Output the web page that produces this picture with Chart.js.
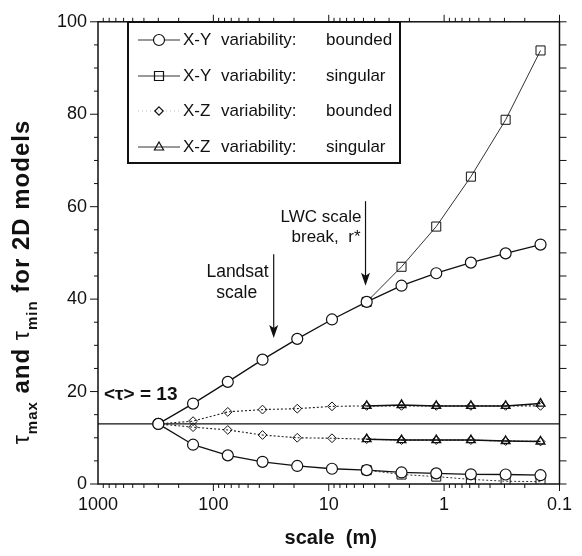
<!DOCTYPE html>
<html lang="en">
<head>
<meta charset="UTF-8">
<title>tau max and tau min for 2D models</title>
<script src="https://cdn.jsdelivr.net/npm/chart.js"></script>
<style>
  html, body { margin: 0; padding: 0; background: #fff; }
  #wrap { width: 582px; height: 556px; }
</style>
</head>
<body>
<div id="wrap"><canvas id="chart" width="582" height="556"></canvas></div>
<script>
// scales (m) of the averaging cells, and the subset where the singular runs are drawn
const scalesM = [300, 150, 75, 37.5, 18.75, 9.375, 4.69, 2.34, 1.17, 0.586, 0.293, 0.146];
const singularScalesM = [4.69, 2.34, 1.17, 0.586, 0.293, 0.146];

// X-Y variability, bounded cascade (circles)
const xyBoundedMax = [13, 17.4, 22.1, 26.9, 31.4, 35.6, 39.4, 42.9, 45.6, 47.9, 49.9, 51.8];
const xyBoundedMin = [13, 8.5, 6.2, 4.8, 3.9, 3.3, 3.0, 2.5, 2.3, 2.1, 2.05, 1.9];
// X-Y variability, singular cascade (squares)
const xySingularMax = [39.4, 47.0, 55.7, 66.5, 78.8, 93.8];
const xySingularMin = [3.0, 2.05, 1.6, 1.0, 0.6, 0.5];
// X-Z variability, bounded (diamonds)
const xzBoundedMax = [13, 13.6, 15.6, 16.1, 16.3, 16.8, 16.9, 16.9, 16.9, 16.9, 16.9, 16.9];
const xzBoundedMin = [13, 12.3, 11.7, 10.6, 10.0, 9.9, 9.7, 9.5, 9.5, 9.5, 9.3, 9.2];
// X-Z variability, singular (triangles)
const xzSingularMax = [16.9, 17.1, 16.9, 16.9, 16.9, 17.4];
const xzSingularMin = [9.7, 9.5, 9.5, 9.5, 9.3, 9.2];

const meanTau = 13;
const xTickLabels = [1000, 100, 10, 1, 0.1];
const yTickLabels = [0, 20, 40, 60, 80, 100];

const FONT = '"Liberation Sans", Arial, Helvetica, sans-serif';
const INK = '#111';

function pts(xs, ys) {
  return xs.map((x, i) => ({ x: x, y: ys[i] }));
}

const circleStyle = {
  pointStyle: 'circle', pointRadius: 5.5, pointBorderWidth: 1.2,
  pointBackgroundColor: '#fff', pointBorderColor: INK,
  borderColor: INK, borderWidth: 1.3
};
const squareStyle = {
  pointStyle: 'rect', pointRadius: 6.4, pointBorderWidth: 1,
  pointBackgroundColor: 'rgba(0,0,0,0)', pointBorderColor: INK,
  borderColor: '#333', borderWidth: 1
};
const squareLowStyle = Object.assign({}, squareStyle, { borderDash: [2, 2] });
const diamondStyle = {
  pointStyle: 'rectRot', pointRadius: 4.4, pointBorderWidth: 1,
  pointBackgroundColor: 'rgba(0,0,0,0)', pointBorderColor: INK,
  borderColor: '#222', borderWidth: 1.1, borderDash: [2, 2]
};
const triangleStyle = {
  pointStyle: 'triangle', pointRadius: 5, pointBorderWidth: 1.4,
  pointBackgroundColor: 'rgba(0,0,0,0)', pointBorderColor: INK,
  borderColor: INK, borderWidth: 1.5
};

const datasets = [
  Object.assign({ label: 'X-Y variability: bounded (max)', data: pts(scalesM, xyBoundedMax) }, circleStyle),
  Object.assign({ label: 'X-Y variability: bounded (min)', data: pts(scalesM, xyBoundedMin) }, circleStyle),
  Object.assign({ label: 'X-Y variability: singular (max)', data: pts(singularScalesM, xySingularMax) }, squareStyle),
  Object.assign({ label: 'X-Y variability: singular (min)', data: pts(singularScalesM, xySingularMin) }, squareLowStyle),
  Object.assign({ label: 'X-Z variability: singular (max)', data: pts(singularScalesM, xzSingularMax) }, triangleStyle),
  Object.assign({ label: 'X-Z variability: singular (min)', data: pts(singularScalesM, xzSingularMin) }, triangleStyle),
  Object.assign({ label: 'X-Z variability: bounded (max)', data: pts(scalesM, xzBoundedMax) }, diamondStyle),
  Object.assign({ label: 'X-Z variability: bounded (min)', data: pts(scalesM, xzBoundedMin) }, diamondStyle),
  {
    label: '<tau> = 13',
    data: [{ x: 1000, y: meanTau }, { x: 0.1, y: meanTau }],
    borderColor: INK, borderWidth: 1.3, pointRadius: 0
  }
];

// legend rows: [first word, last word, marker]
const legendRows = [
  ['X-Y', 'bounded', 'circle'],
  ['X-Y', 'singular', 'square'],
  ['X-Z', 'bounded', 'diamond'],
  ['X-Z', 'singular', 'triangle']
];

function marker(ctx, kind, x, y) {
  ctx.beginPath();
  if (kind === 'circle') {
    ctx.arc(x, y, 5.5, 0, Math.PI * 2);
    ctx.fillStyle = '#fff';
    ctx.fill();
  } else if (kind === 'square') {
    ctx.rect(x - 4.5, y - 4.5, 9, 9);
  } else if (kind === 'diamond') {
    ctx.moveTo(x, y - 4.2); ctx.lineTo(x + 4.2, y); ctx.lineTo(x, y + 4.2); ctx.lineTo(x - 4.2, y); ctx.closePath();
  } else {
    ctx.moveTo(x, y - 5); ctx.lineTo(x + 4.6, y + 3); ctx.lineTo(x - 4.6, y + 3); ctx.closePath();
  }
  ctx.lineWidth = 1.2;
  ctx.strokeStyle = INK;
  ctx.stroke();
}

function arrow(ctx, x, y0, y1) {
  ctx.beginPath();
  ctx.moveTo(x, y0);
  ctx.lineTo(x, y1 - 8);
  ctx.lineWidth = 1.2;
  ctx.strokeStyle = INK;
  ctx.stroke();
  ctx.beginPath();
  ctx.moveTo(x, y1);
  ctx.lineTo(x - 4.5, y1 - 13);
  ctx.lineTo(x, y1 - 10);
  ctx.lineTo(x + 4.5, y1 - 13);
  ctx.closePath();
  ctx.fillStyle = INK;
  ctx.fill();
}

const decor = {
  id: 'decor',
  afterDatasetsDraw(chart) {
    const ctx = chart.ctx;
    const a = chart.chartArea;
    const xs = chart.scales.x, ys = chart.scales.y;
    ctx.save();

    // frame
    ctx.strokeStyle = INK;
    ctx.lineWidth = 1.5;
    ctx.strokeRect(a.left, a.top, a.right - a.left, a.bottom - a.top);

    // tick marks, outward on all four sides
    ctx.lineWidth = 1;
    ctx.beginPath();
    for (let e = -1; e <= 2; e++) {
      for (let k = 1; k <= 9; k++) {
        const v = k * Math.pow(10, e);
        const px = xs.getPixelForValue(v);
        const len = k === 1 ? 7 : 4;
        ctx.moveTo(px, a.bottom); ctx.lineTo(px, a.bottom + len);
        ctx.moveTo(px, a.top); ctx.lineTo(px, a.top - len);
      }
    }
    for (let v = 0; v <= 100; v += 5) {
      const py = ys.getPixelForValue(v);
      const len = v % 20 === 0 ? 8 : 4;
      ctx.moveTo(a.left, py); ctx.lineTo(a.left - len, py);
      ctx.moveTo(a.right, py); ctx.lineTo(a.right + 7, py);
    }
    ctx.stroke();

    ctx.fillStyle = INK;
    ctx.textBaseline = 'middle';

    // x title
    ctx.font = 'bold 20px ' + FONT;
    ctx.textAlign = 'center';
    ctx.fillText('scale  (m)', (a.left + a.right) / 2 + 2, 538);

    // y title with subscripts, rotated
    ctx.save();
    ctx.translate(29, 282);
    ctx.rotate(-Math.PI / 2);
    ctx.textBaseline = 'alphabetic';
    ctx.textAlign = 'left';
    ctx.letterSpacing = '1px';
    const parts = [
      ['τ', '23px ' + FONT, 0],
      ['max', 'bold 15px ' + FONT, 8],
      [' and ', 'bold 24px ' + FONT, 0],
      ['τ', '23px ' + FONT, 0],
      ['min', 'bold 15px ' + FONT, 8],
      [' for 2D models', 'bold 24px ' + FONT, 0]
    ];
    let total = 0;
    parts.forEach(p => { ctx.font = p[1]; total += ctx.measureText(p[0]).width; });
    let cx = -total / 2;
    parts.forEach(p => {
      ctx.font = p[1];
      ctx.fillText(p[0], cx, p[2]);
      cx += ctx.measureText(p[0]).width;
    });
    ctx.restore();

    // mean annotation
    ctx.font = 'bold 19px ' + FONT;
    ctx.textAlign = 'left';
    ctx.fillText('<τ> = 13', a.left + 6, ys.getPixelForValue(19.2));

    // Landsat arrow (30 m)
    const lx = xs.getPixelForValue(30);
    arrow(ctx, lx, ys.getPixelForValue(49.7), ys.getPixelForValue(31.6));
    ctx.font = '17.5px ' + FONT;
    ctx.textAlign = 'right';
    ctx.fillText('Landsat', lx - 5, ys.getPixelForValue(45.8));
    ctx.textAlign = 'center';
    ctx.fillText('scale', lx - 37, ys.getPixelForValue(41.2));

    // LWC scale break arrow (r*)
    const rx = xs.getPixelForValue(4.8);
    arrow(ctx, rx, ys.getPixelForValue(61.2), ys.getPixelForValue(42.9));
    ctx.textAlign = 'right';
    ctx.font = '17px ' + FONT;
    ctx.fillText('LWC scale', rx - 4, ys.getPixelForValue(57.7));
    ctx.fillText('break,  r*', rx - 5, ys.getPixelForValue(53.3));

    // legend box
    ctx.lineWidth = 2;
    ctx.strokeStyle = INK;
    ctx.strokeRect(128, 22, 272, 141);
    const rowY = [40, 76, 111, 147];
    legendRows.forEach((r, i) => {
      const y = rowY[i];
      ctx.beginPath();
      ctx.moveTo(138, y); ctx.lineTo(180, y);
      ctx.lineWidth = 1;
      ctx.strokeStyle = r[2] === 'diamond' ? '#bbb' : '#333';
      ctx.setLineDash(r[2] === 'diamond' ? [1, 3] : []);
      ctx.stroke();
      ctx.setLineDash([]);
      marker(ctx, r[2], 159, y);
      ctx.fillStyle = INK;
      ctx.font = '17px ' + FONT;
      ctx.textAlign = 'left';
      ctx.fillText(r[0], 183, y);
      ctx.fillText('variability:', 221, y);
      ctx.fillText(r[1], 326, y);
    });

    ctx.restore();
  }
};

new Chart(document.getElementById('chart'), {
  type: 'line',
  data: { datasets: datasets },
  options: {
    responsive: false,
    animation: false,
    devicePixelRatio: 1,
    layout: { padding: { top: 14, right: 14, left: 0, bottom: 0 } },
    plugins: { legend: { display: false }, tooltip: { enabled: false } },
    elements: { line: { tension: 0, fill: false } },
    scales: {
      x: {
        type: 'logarithmic',
        reverse: true,
        min: 0.1,
        max: 1000,
        grid: { display: false, drawTicks: false },
        border: { display: false },
        afterBuildTicks: s => { s.ticks = xTickLabels.map(v => ({ value: v })); },
        afterFit: s => { s.height = 72; },
        ticks: {
          autoSkip: false, maxRotation: 0, padding: 10, color: INK,
          font: { family: FONT, size: 18 },
          callback: v => String(v)
        }
      },
      y: {
        min: 0,
        max: 100,
        grid: { display: false, drawTicks: false },
        border: { display: false },
        afterBuildTicks: s => { s.ticks = yTickLabels.map(v => ({ value: v })); },
        afterFit: s => { s.width = 98; },
        ticks: { padding: 11, color: INK, font: { family: FONT, size: 18 } }
      }
    }
  },
  plugins: [decor]
});
</script>
</body>
</html>
